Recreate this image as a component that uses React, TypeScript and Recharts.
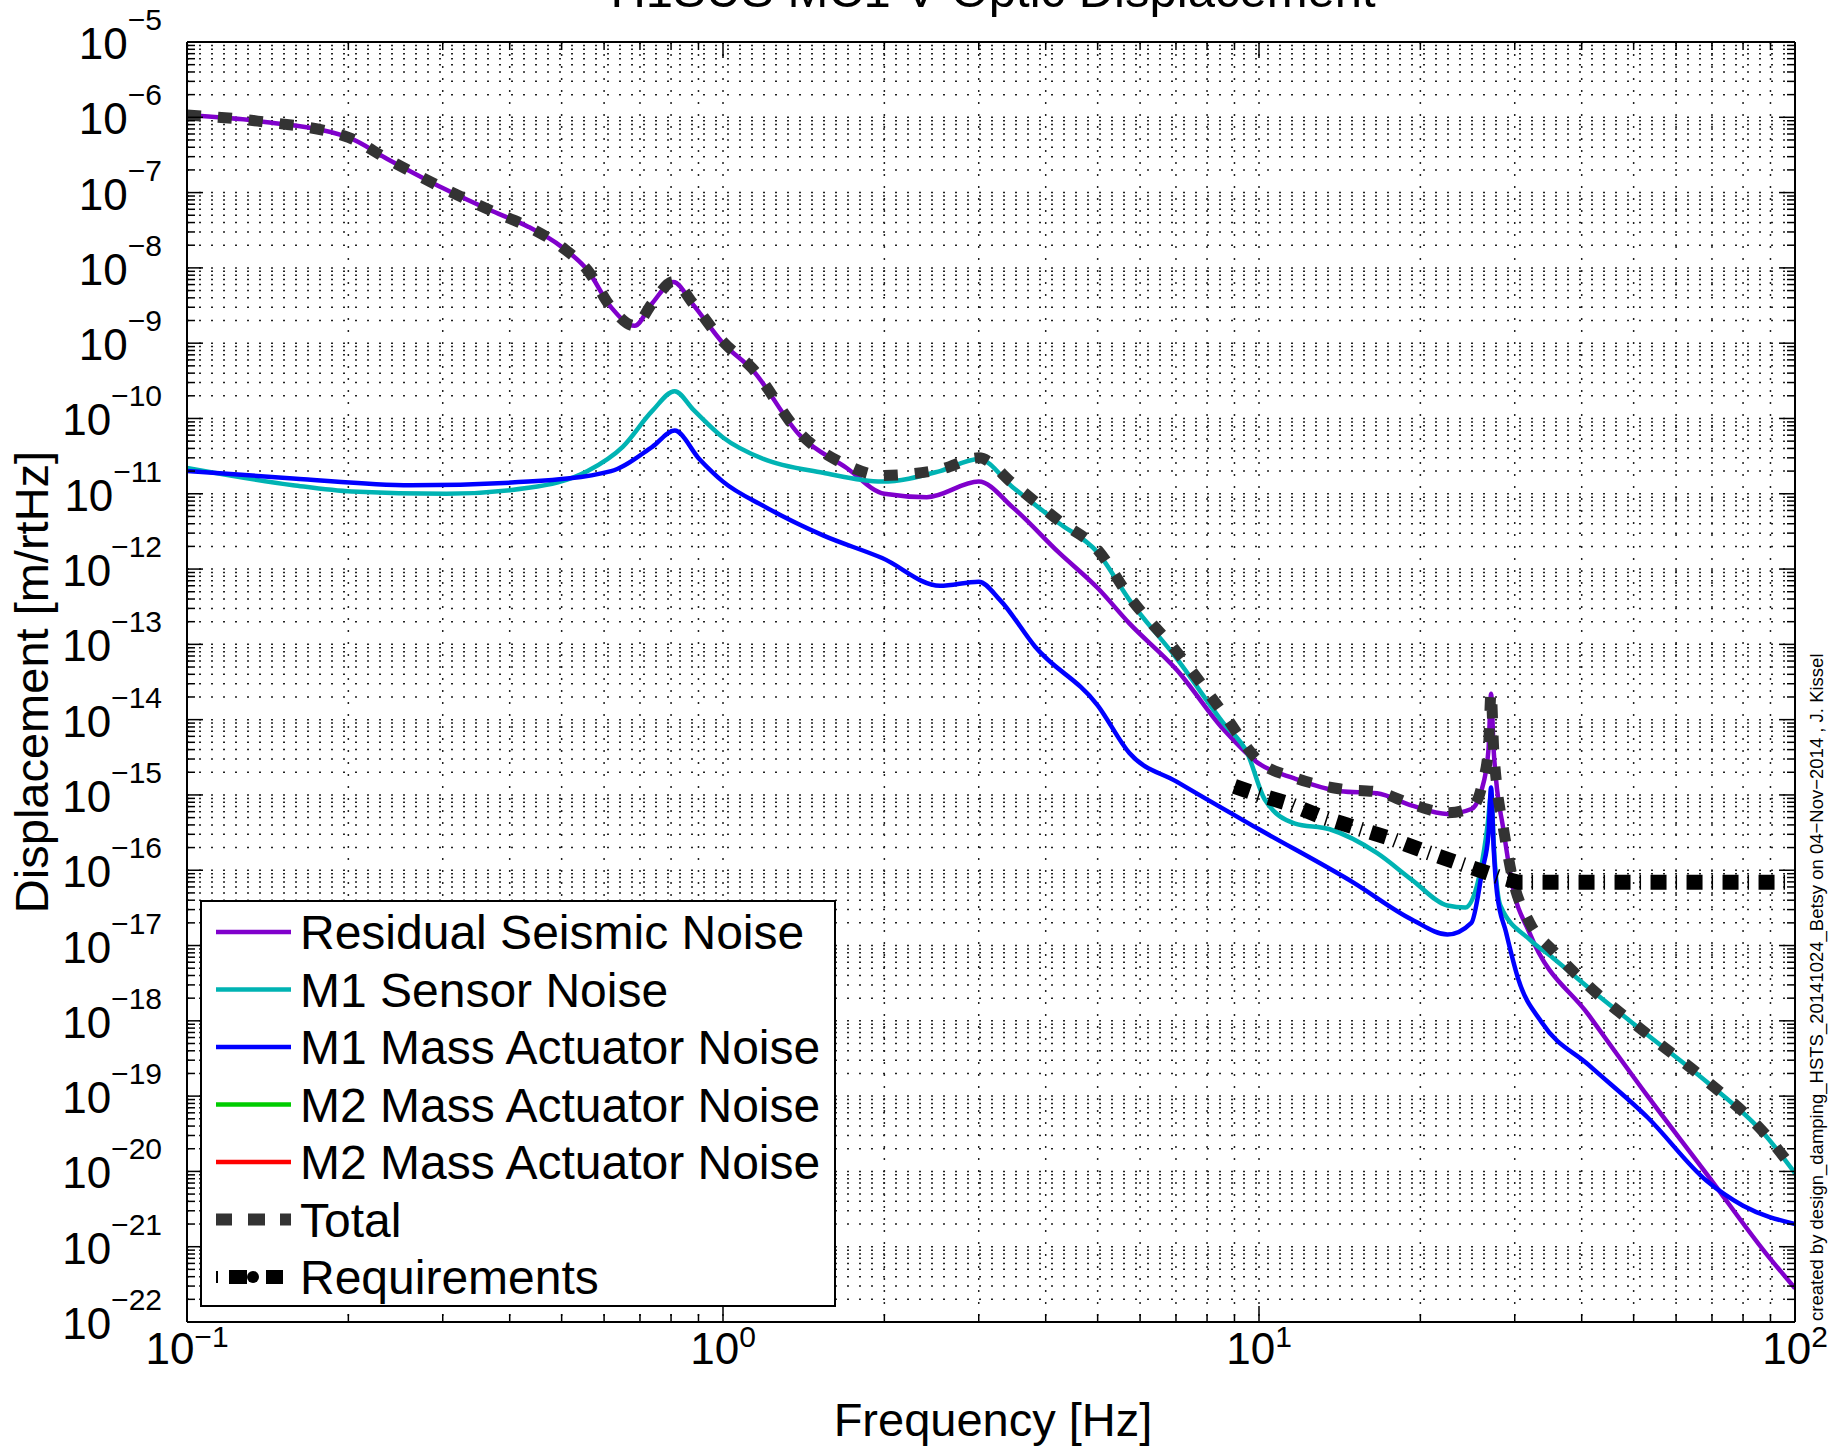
import { LineChart, Line, XAxis, YAxis, CartesianGrid, Legend } from 'recharts';

const FONT = '"Liberation Sans", Arial, Helvetica, sans-serif';

// residual seismic noise (purple)
const seismicFreq = [0.1, 0.1355, 0.2, 0.2364, 0.3, 0.3727, 0.4338, 0.5, 0.5589, 0.6183, 0.684, 0.738, 0.808, 0.881, 1.0, 1.135, 1.39, 1.701, 2.0, 2.4, 3.0, 3.48, 4.23, 5.0, 5.73, 7.02, 8.59, 10, 11.64, 14.2, 16.59, 19.31, 22.47, 24.9, 26.1, 26.8, 27.1, 27.4, 27.8, 28.5, 29.7, 32.0, 41.2, 53.1, 68.4, 88.1, 100];
const seismicAsd = [1.07e-6, 8.9e-7, 5.4e-7, 2.8e-7, 1.15e-7, 5.6e-8, 3.5e-8, 1.9e-8, 9.3e-9, 3.0e-9, 1.7e-9, 3.4e-9, 6.5e-9, 3.2e-9, 1.0e-9, 4.4e-10, 6.0e-11, 2.2e-11, 1.0e-11, 9.0e-12, 1.45e-11, 6.5e-12, 1.66e-12, 5.6e-13, 1.9e-13, 4.6e-14, 7.4e-15, 2.6e-15, 1.66e-15, 1.12e-15, 1.05e-15, 7.2e-16, 5.6e-16, 6.5e-16, 1.26e-15, 4e-15, 2.2e-14, 4e-15, 1.2e-15, 3.9e-16, 6.3e-17, 1.45e-17, 1.2e-18, 1.0e-19, 9.3e-21, 8.3e-22, 2.8e-22];

// M1 sensor noise (cyan)
const sensorFreq = [0.1, 0.1577, 0.203, 0.3043, 0.4338, 0.5589, 0.65, 0.738, 0.8125, 0.881, 1.0, 1.189, 1.537, 1.981, 2.54, 3.0, 3.48, 4.23, 5.0, 5.73, 7.02, 8.59, 9.51, 10.25, 11.64, 13.55, 16.59, 19.31, 22.47, 24.27, 25.9, 26.7, 27.1, 27.5, 28.2, 32.0, 35.4, 41.2, 53.1, 68.4, 88.1, 100];
const sensorAsd = [2.2e-11, 1.3e-11, 1.07e-11, 1.0e-11, 1.2e-11, 2.0e-11, 4.2e-11, 1.26e-10, 2.3e-10, 1.3e-10, 5.6e-11, 2.9e-11, 1.9e-11, 1.45e-11, 2.0e-11, 2.9e-11, 1.2e-11, 4.1e-12, 1.66e-12, 3.9e-13, 6.5e-14, 8.9e-15, 3.6e-15, 8.7e-16, 4.2e-16, 3.5e-16, 1.7e-16, 7.4e-17, 3.4e-17, 3.2e-17, 1.0e-16, 4e-16, 1.0e-15, 1.5e-16, 3.4e-17, 1.2e-17, 6.8e-18, 2.75e-18, 6.5e-19, 1.55e-19, 3.0e-20, 9.5e-21];

// M1 mass actuator noise (blue)
const actFreq = [0.1, 0.1577, 0.2616, 0.4338, 0.6183, 0.738, 0.8125, 0.903, 1.0, 1.189, 1.537, 1.981, 2.54, 3.0, 3.285, 3.823, 5.0, 5.73, 7.02, 10, 14.98, 19.31, 22.47, 24.9, 26.1, 26.8, 27.1, 27.4, 27.8, 28.9, 30.45, 33.7, 41.2, 53.1, 68.4, 80, 100];
const actAsd = [2.0e-11, 1.6e-11, 1.3e-11, 1.45e-11, 2.0e-11, 4.2e-11, 6.9e-11, 2.9e-11, 1.45e-11, 6.9e-12, 2.8e-12, 1.4e-12, 6.0e-13, 6.8e-13, 3.9e-13, 9.3e-14, 1.55e-14, 3.6e-15, 1.5e-15, 3.5e-16, 6.9e-17, 2.2e-17, 1.4e-17, 2.0e-17, 1.0e-16, 3e-16, 1.26e-15, 2e-16, 5e-17, 1.5e-17, 3.6e-18, 9.5e-19, 2.6e-19, 5.2e-20, 7.5e-21, 3.5e-21, 2.0e-21];

// total
const totalFreq = [0.1, 0.1355, 0.2, 0.2364, 0.3, 0.3727, 0.4338, 0.5, 0.5589, 0.6183, 0.684, 0.738, 0.808, 0.881, 1.0, 1.135, 1.39, 1.701, 1.981, 2.54, 3.0, 3.48, 4.23, 5.0, 5.73, 7.02, 8.59, 10, 11.64, 14.2, 16.59, 19.31, 22.47, 24.9, 26.1, 26.8, 27.1, 27.4, 27.8, 28.5, 29.7, 32.0, 35.4, 41.2, 53.1, 68.4, 88.1, 100];
const totalAsd = [1.07e-6, 8.9e-7, 5.4e-7, 2.8e-7, 1.15e-7, 5.6e-8, 3.5e-8, 1.9e-8, 9.3e-9, 3.0e-9, 1.7e-9, 3.4e-9, 6.6e-9, 3.3e-9, 1.05e-9, 4.6e-10, 6.4e-11, 2.4e-11, 1.75e-11, 2.1e-11, 3.0e-11, 1.35e-11, 4.4e-12, 1.8e-12, 4.3e-13, 8.0e-14, 1.2e-14, 2.8e-15, 1.7e-15, 1.2e-15, 1.1e-15, 7.5e-16, 5.8e-16, 6.7e-16, 1.4e-15, 4.2e-15, 2.3e-14, 4.2e-15, 1.25e-15, 4.0e-16, 8.0e-17, 2.0e-17, 8.5e-18, 2.9e-18, 6.6e-19, 1.6e-19, 3.1e-20, 1.0e-20];

// requirements
const reqFreq = [9.0, 9.74, 11.4, 13.2, 15.7, 17.7, 20.3, 23.9, 28.4, 30.5, 100];
const reqAsd = [1.3e-15, 1.07e-15, 7.6e-16, 5.0e-16, 3.4e-16, 2.6e-16, 1.8e-16, 1.2e-16, 7.9e-17, 6.9e-17, 6.9e-17];

const X_DECADES = [-1, 0, 1];
const Y_DECADES = [-22, -21, -20, -19, -18, -17, -16, -15, -14, -13, -12, -11, -10, -9, -8, -7, -6];
const MANTISSAS = [1, 2, 3, 4, 5, 6, 7, 8, 9];

const X_TICKS = [...X_DECADES.flatMap((d) => MANTISSAS.map((m) => m * Math.pow(10, d))), 100];
const Y_TICKS = [...Y_DECADES.flatMap((d) => MANTISSAS.map((m) => m * Math.pow(10, d))), 1e-5];

const LEGEND_ITEMS = [
  { name: 'Residual Seismic Noise', color: '#8000CC', kind: 'solid' },
  { name: 'M1 Sensor Noise', color: '#00B3B3', kind: 'solid' },
  { name: 'M1 Mass Actuator Noise', color: '#0000FF', kind: 'solid' },
  { name: 'M2 Mass Actuator Noise', color: '#00CC00', kind: 'solid' },
  { name: 'M2 Mass Actuator Noise', color: '#FF0000', kind: 'solid' },
  { name: 'Total', color: '#333333', kind: 'dash' },
  { name: 'Requirements', color: '#000000', kind: 'dashdot' },
];

const toPoints = (f: number[], v: number[]) => f.map((x, i) => ({ f: x, v: v[i] }));

const isMajor = (v: number) => Math.abs(Math.log10(v) - Math.round(Math.log10(v))) < 1e-6;
const expOf = (v: number) => Math.round(Math.log10(v));
const supText = (e: number) => (e < 0 ? `\u2212${-e}` : `${e}`);

const MAJOR = 16;
const MINOR = 8;

const LeftTick = ({ x, y, payload }: any) => {
  const v = payload.value;
  const major = isMajor(v);
  return (
    <g>
      <line x1={x} x2={x + (major ? MAJOR : MINOR)} y1={y} y2={y} stroke="#000" strokeWidth={1.5} />
      {major && (
        <text x={x - 25} y={y + 17} textAnchor="end" fontFamily={FONT} fill="#000">
          <tspan fontSize={44}>10</tspan>
          <tspan fontSize={30} dy={-29}>{supText(expOf(v))}</tspan>
        </text>
      )}
    </g>
  );
};

const RightTick = ({ x, y, payload }: any) => {
  const major = isMajor(payload.value);
  return <line x1={x} x2={x - (major ? MAJOR : MINOR)} y1={y} y2={y} stroke="#000" strokeWidth={1.5} />;
};

const BottomTick = ({ x, y, payload }: any) => {
  const v = payload.value;
  const major = isMajor(v);
  return (
    <g>
      <line x1={x} x2={x} y1={y} y2={y - (major ? MAJOR : MINOR)} stroke="#000" strokeWidth={1.5} />
      {major && (
        <text x={x} y={y + 42} textAnchor="middle" fontFamily={FONT} fill="#000">
          <tspan fontSize={44}>10</tspan>
          <tspan fontSize={30} dy={-17}>{supText(expOf(v))}</tspan>
        </text>
      )}
    </g>
  );
};

const TopTick = ({ x, y, payload }: any) => {
  const major = isMajor(payload.value);
  return <line x1={x} x2={x} y1={y} y2={y + (major ? MAJOR : MINOR)} stroke="#000" strokeWidth={1.5} />;
};

const LegendBox = () => (
  <svg width={636} height={407} style={{ display: 'block' }}>
    <rect x={1} y={1} width={634} height={405} fill="#fff" stroke="#000" strokeWidth={2} />
    {LEGEND_ITEMS.map((item, i) => {
      const cy = 32 + i * 57.5;
      let sample;
      if (item.kind === 'solid') {
        sample = <line x1={16} x2={91} y1={cy} y2={cy} stroke={item.color} strokeWidth={4.5} />;
      } else if (item.kind === 'dash') {
        sample = (
          <g fill={item.color}>
            <rect x={16} y={cy - 6} width={16} height={12} />
            <rect x={48} y={cy - 6} width={17} height={12} />
            <rect x={80} y={cy - 6} width={11} height={12} />
          </g>
        );
      } else {
        sample = (
          <g fill={item.color}>
            <rect x={16} y={cy - 6} width={2} height={12} />
            <rect x={29} y={cy - 7} width={18} height={14} />
            <circle cx={53} cy={cy} r={6} />
            <rect x={66} y={cy - 7} width={17} height={14} />
          </g>
        );
      }
      return (
        <g key={i}>
          {sample}
          <text x={100} y={cy + 17} fontSize={48} fontFamily={FONT} fill="#000">
            {item.name}
          </text>
        </g>
      );
    })}
  </svg>
);

export default function App() {
  return (
    <div style={{ position: 'absolute', left: 0, top: 0, width: 1846, height: 1450, background: '#fff' }}>
      <LineChart width={1846} height={1450} margin={{ top: 0, right: 0, bottom: 0, left: 0 }}>
        <CartesianGrid
          xAxisId="bottom"
          yAxisId="left"
          stroke="#222"
          strokeWidth={1.5}
          strokeDasharray="2 10"
        />
        <XAxis
          xAxisId="bottom"
          type="number"
          dataKey="f"
          scale="log"
          domain={[0.1, 100]}
          allowDataOverflow
          ticks={X_TICKS}
          interval={0}
          height={128}
          tickSize={0}
          tickMargin={0}
          tickLine={false}
          axisLine={{ stroke: '#000', strokeWidth: 2 }}
          tick={(p: any) => <BottomTick {...p} />}
        />
        <XAxis
          xAxisId="top"
          orientation="top"
          type="number"
          dataKey="f"
          scale="log"
          domain={[0.1, 100]}
          allowDataOverflow
          ticks={X_TICKS}
          interval={0}
          height={42}
          tickSize={0}
          tickMargin={0}
          tickLine={false}
          axisLine={{ stroke: '#000', strokeWidth: 2 }}
          tick={(p: any) => <TopTick {...p} />}
        />
        <YAxis
          yAxisId="left"
          type="number"
          scale="log"
          domain={[1e-22, 1e-5]}
          allowDataOverflow
          ticks={Y_TICKS}
          interval={0}
          width={187}
          tickSize={0}
          tickMargin={0}
          tickLine={false}
          axisLine={{ stroke: '#000', strokeWidth: 2 }}
          tick={(p: any) => <LeftTick {...p} />}
        />
        <YAxis
          yAxisId="right"
          orientation="right"
          type="number"
          scale="log"
          domain={[1e-22, 1e-5]}
          allowDataOverflow
          ticks={Y_TICKS}
          interval={0}
          width={51}
          tickSize={0}
          tickMargin={0}
          tickLine={false}
          axisLine={{ stroke: '#000', strokeWidth: 2 }}
          tick={(p: any) => <RightTick {...p} />}
        />
        <Line xAxisId="bottom" yAxisId="left" data={toPoints(seismicFreq, seismicAsd)} dataKey="v" type="monotone" stroke="#8000CC" strokeWidth={4.5} dot={false} isAnimationActive={false} />
        <Line xAxisId="bottom" yAxisId="left" data={toPoints(sensorFreq, sensorAsd)} dataKey="v" type="monotone" stroke="#00B3B3" strokeWidth={4.5} dot={false} isAnimationActive={false} />
        <Line xAxisId="bottom" yAxisId="left" data={toPoints(actFreq, actAsd)} dataKey="v" type="monotone" stroke="#0000FF" strokeWidth={4.5} dot={false} isAnimationActive={false} />
        <Line xAxisId="bottom" yAxisId="left" data={toPoints(totalFreq, totalAsd)} dataKey="v" type="monotone" stroke="#333333" strokeWidth={11} strokeDasharray="14 17" dot={false} isAnimationActive={false} />
        <Line xAxisId="bottom" yAxisId="left" data={toPoints(reqFreq, reqAsd)} dataKey="v" type="linear" stroke="#000000" strokeWidth={15} strokeDasharray="16 9 1.5 9.5" dot={false} isAnimationActive={false} />
        <Legend
          layout="vertical"
          align="center"
          verticalAlign="middle"
          wrapperStyle={{ left: 200, top: 900, width: 636, height: 407 }}
          content={() => <LegendBox />}
        />
        <text x={993} y={7} textAnchor="middle" fontSize={49} fontFamily={FONT} fill="#000">
          H1SUS MC1 V Optic Displacement
        </text>
        <text x={993} y={1436} textAnchor="middle" fontSize={47} fontFamily={FONT} fill="#000">
          Frequency [Hz]
        </text>
        <text x={48} y={682} transform="rotate(-90, 48, 682)" textAnchor="middle" fontSize={47} fontFamily={FONT} fill="#000">
          Displacement [m/rtHz]
        </text>
        <text x={1823} y={1321} transform="rotate(-90, 1823, 1321)" textAnchor="start" fontSize={18.5} fontFamily={FONT} fill="#000">
          created by design_damping_HSTS_20141024_Betsy on 04{'\u2212'}Nov{'\u2212'}2014 , J. Kissel
        </text>
      </LineChart>
    </div>
  );
}
